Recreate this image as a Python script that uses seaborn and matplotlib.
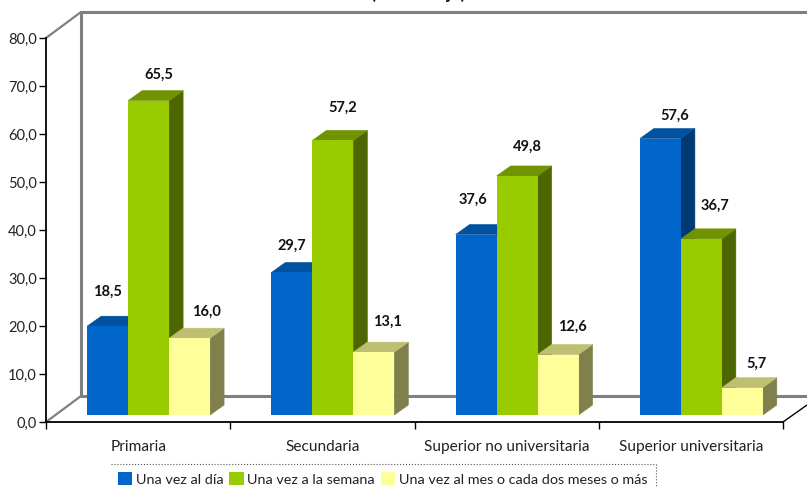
import pandas as pd
import seaborn as sns
import matplotlib.pyplot as plt
from matplotlib.lines import Line2D
from matplotlib.patches import Polygon
from matplotlib.transforms import IdentityTransform

# Data
categories = ["Primaria", "Secundaria", "Superior no universitaria", "Superior universitaria"]
series_names = ["Una vez al día", "Una vez a la semana", "Una vez al mes o cada dos meses o más"]
dia = [18.5, 29.7, 37.6, 57.6]
semana = [65.5, 57.2, 49.8, 36.7]
mes = [16.0, 13.1, 12.6, 5.7]
y_ticks = [0, 10, 20, 30, 40, 50, 60, 70, 80]

# Colors: front, top, side
front_colors = ["#0066CC", "#99CC00", "#FFFF99"]
top_colors = ["#00519F", "#6F9400", "#BFBF73"]
side_colors = ["#003A75", "#4D6600", "#80804D"]

# Label nudges in pixels (dx, dy from front top centre of the bar)
label_nudge = [
    [(0, 34), (0, 27), (-3, 35), (14, 23)],
    [(10, 26), (10, 33), (10, 29), (14, 33)],
    [(17, 26), (14, 30), (14, 28), (14, 24)],
]

W, H = 807, 488
sns.set_theme(style="white")
plt.rcParams["font.family"] = ["Lato", "Liberation Sans", "DejaVu Sans"]

rows = []
for name, vals in zip(series_names, [dia, semana, mes]):
    for c, v in zip(categories, vals):
        rows.append({"nivel": c, "frecuencia": name, "valor": v})
df = pd.DataFrame(rows)

fig = plt.figure(figsize=(W / 100, H / 100), dpi=100, facecolor="white")


def box(x0, y_bottom, w, h):
    return [x0 / W, (H - y_bottom) / H, w / W, h / H]


# frame with the real axes
frame = fig.add_axes(box(46, 422, 737, 384))
frame.patch.set_visible(False)
frame.set_xlim(-0.5, 3.5)
frame.set_ylim(0, 80)
for s in ["top", "right"]:
    frame.spines[s].set_visible(False)
for s in ["left", "bottom"]:
    frame.spines[s].set_color("black")
    frame.spines[s].set_linewidth(1.3)
frame.set_yticks(y_ticks)
frame.set_yticklabels([f"{t:.1f}".replace(".", ",") for t in y_ticks], fontsize=10.5, color="#222222")
frame.set_xticks([-0.5, 0.5, 1.5, 2.5, 3.5])
frame.set_xticklabels([])
frame.set_xticks([0, 1, 2, 3], minor=True)
frame.set_xticklabels(categories, minor=True, fontsize=11.1, color="#222222")
frame.tick_params(axis="y", left=True, length=5, width=1, color="black", pad=1.5)
frame.tick_params(axis="x", which="major", bottom=True, length=5, width=1, color="black")
frame.tick_params(axis="x", which="minor", bottom=False, length=0, pad=13)

# bars sit a little up and right of the frame
ax = fig.add_axes(box(56.5, 415, 737, 384))
ax.patch.set_visible(False)
sns.barplot(
    data=df, x="nivel", y="valor", hue="frecuencia", order=categories,
    hue_order=series_names, palette=front_colors, width=0.667, gap=0,
    saturation=1, ax=ax, zorder=3, linewidth=0, edgecolor="none",
)
ax.set_xlim(-0.5, 3.5)
ax.set_ylim(0, 80)
handles, labels = ax.get_legend_handles_labels()
ax.get_legend().remove()
ax.axis("off")

dx = 14 / (737 / 4)
dy = 10 / 4.8
for i, cont in enumerate(ax.containers):
    for j, bar in enumerate(cont):
        x0, w, h = bar.get_x(), bar.get_width(), bar.get_height()
        x1 = x0 + w
        ax.add_patch(Polygon([(x1, 0), (x1 + dx, dy), (x1 + dx, h + dy), (x1, h)],
                             closed=True, fc=side_colors[i], ec=side_colors[i], lw=0.4, zorder=1))
        ax.add_patch(Polygon([(x0, h), (x0 + dx, h + dy), (x1 + dx, h + dy), (x1, h)],
                             closed=True, fc=top_colors[i], ec=top_colors[i], lw=0.4, zorder=1))
        ox, oy = label_nudge[i][j]
        ax.annotate(f"{h:.1f}".replace(".", ","), (x0 + w / 2, h), xytext=(ox, oy),
                    textcoords="offset pixels", ha="center", va="center",
                    fontsize=10.5, fontweight="bold", color="#111111", zorder=5)


# walls, in pixels from the top left
def line(xs, ys, color="#808080", lw=2.2, ls="-", z=-1):
    fig.add_artist(Line2D(xs, [H - y for y in ys], transform=IdentityTransform(),
                          color=color, lw=lw, ls=ls, zorder=z))


line([81, 81], [12, 396])
line([81, W], [12, 12])
line([81, W], [396, 396])
line([46, 81], [38, 12], lw=1.6)
line([46, 81], [422, 396], lw=1.6)
line([783, W], [422, 405], color="black", lw=1)

# legend box is cut by the bottom of the picture
line([111, 656], [464, 464], color="#555555", lw=0.8, ls=":")
line([656, 656], [464, H], color="#555555", lw=0.8, ls=":")
leg = fig.legend(handles, labels, loc="center left", bbox_to_anchor=(118 / W, (H - 479) / H),
                 ncol=3, frameon=False, fontsize=10.35, handlelength=1.0, handleheight=1.0,
                 handletextpad=0.25, columnspacing=0.4, borderpad=0, borderaxespad=0,
                 labelcolor="#222222")

# end of the title, almost all of it is cut off at the top of the picture
fig.text(370 / W, (H + 1) / H, "(Porcentaje)", fontsize=12.8, fontweight="bold", va="baseline", color="#111111")

fig.savefig("out.png", dpi=100)
